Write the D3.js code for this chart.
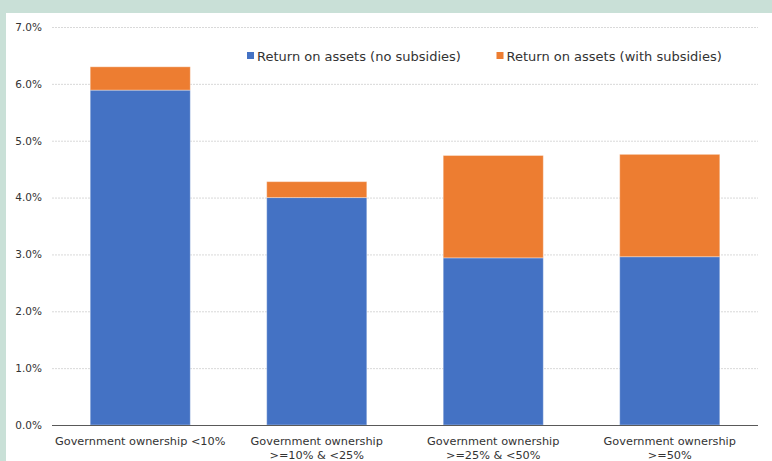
<!DOCTYPE html>
<html>
<head>
<meta charset="utf-8">
<script src="https://cdn.jsdelivr.net/npm/d3@7"></script>
<style>
  html, body { margin: 0; padding: 0; background: #c9e0d7; }
  svg { display: block; }
</style>
</head>
<body>
<svg id="chart" width="772" height="461"></svg>
<script>
// Categories (two-line labels)
const categories = [
  ["Government ownership <10%"],
  ["Government ownership", ">=10% & <25%"],
  ["Government ownership", ">=25% & <50%"],
  ["Government ownership", ">=50%"]
];
const categoryKeys = ["c1", "c2", "c3", "c4"];

// Return on assets without subsidies (%)
const roaNoSubsidies = [5.89, 4.00, 2.94, 2.96];
// Additional return when subsidies are included (%), stacked on top
const roaSubsidyIncrement = [0.41, 0.28, 1.80, 1.80];

const seriesNames = ["Return on assets (no subsidies)", "Return on assets (with subsidies)"];
const seriesColors = ["#4472c4", "#ed7d31"];
const yTicks = [0, 1, 2, 3, 4, 5, 6, 7];

const svg = d3.select("#chart");
const W = 772, H = 461;

// white panel
svg.append("rect").attr("x", 6).attr("y", 13).attr("width", W - 6).attr("height", H - 13).attr("fill", "#ffffff");

const plot = { left: 52, right: 758, top: 27, bottom: 425 };

const x = d3.scaleBand().domain(categoryKeys).range([plot.left, plot.right]).paddingInner(0.433).paddingOuter(0.2165);
const y = d3.scaleLinear().domain([0, 7]).range([plot.bottom, plot.top]);

const font = "DejaVu Sans, Verdana, sans-serif";

// gridlines
svg.append("g").selectAll("line").data(yTicks.filter(t => t > 0)).join("line")
  .attr("x1", plot.left).attr("x2", plot.right)
  .attr("y1", d => y(d) + 0.5).attr("y2", d => y(d) + 0.5)
  .attr("stroke", "#d9d9d9").attr("stroke-width", 1).attr("stroke-dasharray", "2,1");

// y axis tick labels
const yAxis = d3.axisLeft(y).tickValues(yTicks).tickFormat(d => d.toFixed(1) + "%").tickSize(0).tickPadding(0);
const ya = svg.append("g").attr("transform", `translate(42,0)`).call(yAxis);
ya.select(".domain").remove();
ya.selectAll("text").attr("font-family", font).attr("font-size", 10.5).attr("fill", "#333");

// stacked bars
const rows = categoryKeys.map((k, i) => ({ key: k, base: roaNoSubsidies[i], extra: roaSubsidyIncrement[i] }));
const stack = d3.stack().keys(["base", "extra"]);
const layers = stack(rows);

svg.append("g").selectAll("g").data(layers).join("g")
  .attr("fill", (d, i) => seriesColors[i])
  .selectAll("rect").data(d => d).join("rect")
  .attr("x", d => x(d.data.key))
  .attr("width", x.bandwidth())
  .attr("y", d => y(d[1]))
  .attr("height", d => y(d[0]) - y(d[1]))
  .attr("stroke", "#ffffff").attr("stroke-opacity", 0.35).attr("stroke-width", 1);

// x axis baseline
svg.append("line").attr("x1", plot.left).attr("x2", plot.right)
  .attr("y1", plot.bottom + 0.5).attr("y2", plot.bottom + 0.5)
  .attr("stroke", "#595959").attr("stroke-width", 1);

// category labels
const xl = svg.append("g").selectAll("text").data(categoryKeys).join("text")
  .attr("x", d => x(d) + x.bandwidth() / 2)
  .attr("y", 445)
  .attr("text-anchor", "middle")
  .attr("font-family", font).attr("font-size", 11.3).attr("fill", "#333");
xl.each(function (d, i) {
  const t = d3.select(this);
  categories[i].forEach((line, j) => {
    t.append("tspan").attr("x", x(d) + x.bandwidth() / 2).attr("dy", j === 0 ? 0 : 14).text(line);
  });
});

// legend
const legendItems = [
  { name: seriesNames[0], color: seriesColors[0], x: 247 },
  { name: seriesNames[1], color: seriesColors[1], x: 496.5 }
];
const lg = svg.append("g").selectAll("g").data(legendItems).join("g")
  .attr("transform", d => `translate(${d.x},0)`);
lg.append("rect").attr("x", 0).attr("y", 52).attr("width", 7).attr("height", 7).attr("fill", d => d.color);
lg.append("text").attr("x", 10).attr("y", 60.5)
  .attr("font-family", font).attr("font-size", 13).attr("fill", "#333")
  .text(d => d.name);
</script>
</body>
</html>
